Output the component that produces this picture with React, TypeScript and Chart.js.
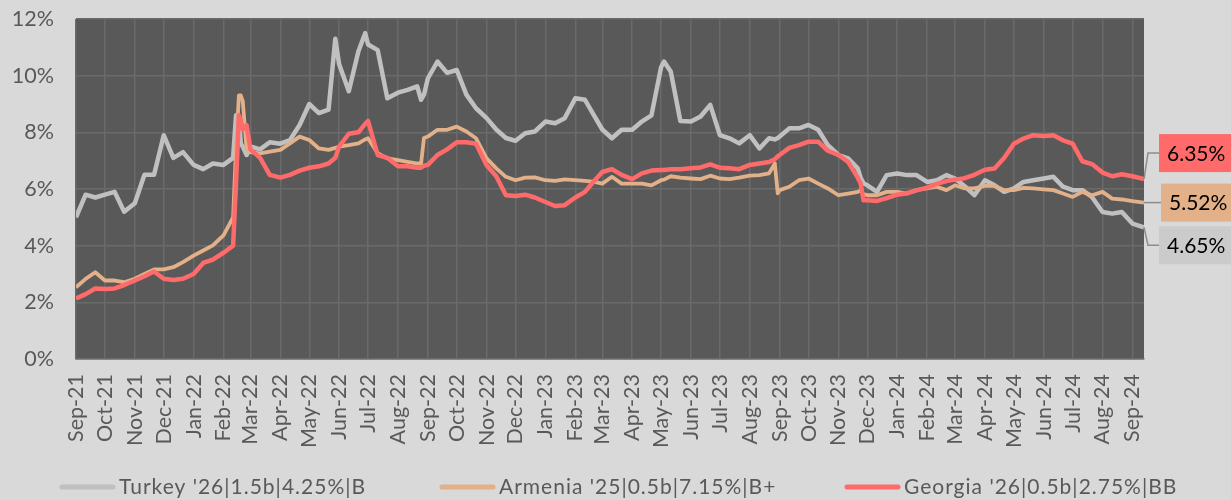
import React, { useEffect, useRef } from 'react';
import { Chart, registerables } from 'chart.js';

Chart.register(...registerables);

// ---------- DATA ----------
const dates: string[] = [
  '2021-09-01', '2021-09-11', '2021-09-21',
  '2021-10-01', '2021-10-11', '2021-10-21',
  '2021-11-01', '2021-11-11', '2021-11-21',
  '2021-12-01', '2021-12-11', '2021-12-21',
  '2022-01-01', '2022-01-11', '2022-01-21',
  '2022-02-01', '2022-02-11', '2022-02-14', '2022-02-17', '2022-02-19', '2022-02-21', '2022-02-25',
  '2022-03-01', '2022-03-11', '2022-03-21',
  '2022-04-01', '2022-04-11', '2022-04-21',
  '2022-05-01', '2022-05-11', '2022-05-21', '2022-05-28',
  '2022-06-01', '2022-06-11', '2022-06-21', '2022-06-28',
  '2022-07-01', '2022-07-11', '2022-07-21',
  '2022-08-01', '2022-08-11', '2022-08-21', '2022-08-25', '2022-08-28',
  '2022-09-01', '2022-09-11', '2022-09-21',
  '2022-10-01', '2022-10-11', '2022-10-21',
  '2022-11-01', '2022-11-11', '2022-11-21',
  '2022-12-01', '2022-12-11', '2022-12-21',
  '2023-01-01', '2023-01-11', '2023-01-21',
  '2023-02-01', '2023-02-11', '2023-02-21',
  '2023-03-01', '2023-03-11', '2023-03-21',
  '2023-04-01', '2023-04-11', '2023-04-21',
  '2023-05-01', '2023-05-04', '2023-05-11', '2023-05-21',
  '2023-06-01', '2023-06-11', '2023-06-21',
  '2023-07-01', '2023-07-11', '2023-07-21',
  '2023-08-01', '2023-08-11', '2023-08-21', '2023-08-27', '2023-08-30',
  '2023-09-01', '2023-09-11', '2023-09-21',
  '2023-10-01', '2023-10-11', '2023-10-21',
  '2023-11-01', '2023-11-11', '2023-11-21', '2023-11-24', '2023-11-27',
  '2023-12-01', '2023-12-11', '2023-12-21',
  '2024-01-01', '2024-01-11', '2024-01-21',
  '2024-02-01', '2024-02-11', '2024-02-21',
  '2024-03-01', '2024-03-11', '2024-03-21',
  '2024-04-01', '2024-04-11', '2024-04-21',
  '2024-05-01', '2024-05-11', '2024-05-21',
  '2024-06-01', '2024-06-11', '2024-06-21',
  '2024-07-01', '2024-07-11', '2024-07-21',
  '2024-08-01', '2024-08-11', '2024-08-21',
  '2024-09-01', '2024-09-13',
];

const turkey: number[] = [
  5.0, 5.8, 5.7,
  5.8, 5.9, 5.2,
  5.5, 6.5, 6.5,
  7.9, 7.1, 7.3,
  6.85, 6.7, 6.9,
  6.85, 7.1, 8.6, 8.5, 7.6, 7.5, 7.2,
  7.5, 7.4, 7.65,
  7.6, 7.73, 8.26,
  9.0, 8.68, 8.8, 11.3,
  10.4, 9.45, 10.86, 11.5,
  11.1, 10.9, 9.2,
  9.4, 9.5, 9.62, 9.15, 9.33,
  9.9, 10.5, 10.1,
  10.2, 9.33, 8.85,
  8.5, 8.1, 7.8,
  7.7, 7.97, 8.03,
  8.38, 8.32, 8.5,
  9.2, 9.15, 8.56,
  8.1, 7.79, 8.09,
  8.09, 8.38, 8.6,
  10.3, 10.5, 10.15, 8.4,
  8.38, 8.56, 8.97,
  7.9, 7.79, 7.61,
  7.9, 7.43, 7.79, 7.75, 7.8,
  7.85, 8.14, 8.14,
  8.26, 8.09, 7.55,
  7.2, 7.08, 6.73, 6.4, 6.2,
  6.13, 5.9, 6.49,
  6.55, 6.49, 6.49,
  6.25, 6.31, 6.49,
  6.37, 6.1, 5.78,
  6.31, 6.13, 5.9,
  6.02, 6.25, 6.31,
  6.37, 6.43, 6.08,
  5.96, 5.96, 5.72,
  5.19, 5.13, 5.19,
  4.78, 4.65,
];

const armenia: number[] = [
  2.53, 2.83, 3.06,
  2.77, 2.77, 2.71,
  2.83, 3.0, 3.16,
  3.16, 3.24, 3.42,
  3.65, 3.83, 4.01,
  4.36, 5.0, 7.4, 9.3, 9.3, 9.1, 7.4,
  7.3, 7.26, 7.32,
  7.38, 7.61, 7.85,
  7.73, 7.43, 7.38, 7.45,
  7.5, 7.55, 7.61, 7.75,
  7.79, 7.26, 7.08,
  7.02, 6.96, 6.9, 6.9, 7.8,
  7.85, 8.09, 8.09,
  8.2, 8.03, 7.79,
  7.08, 6.73, 6.43,
  6.31, 6.4, 6.41,
  6.31, 6.29, 6.34,
  6.31, 6.29, 6.25,
  6.19, 6.43, 6.19,
  6.19, 6.19, 6.13,
  6.31, 6.33, 6.45, 6.4,
  6.37, 6.35, 6.47,
  6.37, 6.35, 6.4,
  6.47, 6.49, 6.55, 6.9, 5.85,
  5.96, 6.08, 6.31,
  6.37, 6.19, 6.02,
  5.78, 5.84, 5.9, 5.95, 5.82,
  5.78, 5.78, 5.9,
  5.9, 5.84, 5.96,
  6.02, 6.08, 5.96,
  6.13, 6.02, 6.02,
  6.11, 6.11, 5.96,
  5.96, 6.04, 6.02,
  5.99, 5.96, 5.84,
  5.72, 5.9, 5.78,
  5.9, 5.66, 5.63,
  5.57, 5.52,
];

const georgia: number[] = [
  2.14, 2.29, 2.49,
  2.47, 2.49, 2.61,
  2.77, 2.92, 3.09,
  2.83, 2.79, 2.83,
  3.0, 3.39, 3.51,
  3.75, 4.0, 6.2, 8.6, 8.4, 8.1, 8.25,
  7.4, 7.1, 6.5,
  6.4, 6.5, 6.65,
  6.75, 6.8, 6.9, 7.1,
  7.5, 7.95, 8.0, 8.3,
  8.4, 7.2, 7.1,
  6.8, 6.8, 6.75, 6.75, 6.82,
  6.85, 7.2, 7.4,
  7.65, 7.65, 7.6,
  6.84, 6.45, 5.78,
  5.75, 5.8, 5.7,
  5.54, 5.4, 5.43,
  5.7, 5.9, 6.3,
  6.6, 6.7, 6.5,
  6.35, 6.55, 6.65,
  6.67, 6.67, 6.7, 6.7,
  6.73, 6.76, 6.87,
  6.75, 6.73, 6.7,
  6.85, 6.9, 6.95, 7.05, 7.15,
  7.2, 7.45, 7.55,
  7.67, 7.67, 7.35,
  7.2, 6.96, 6.4, 6.2, 5.6,
  5.6, 5.58, 5.68,
  5.8, 5.85, 5.95,
  6.05, 6.18, 6.28,
  6.33, 6.38, 6.5,
  6.68, 6.72, 7.1,
  7.6, 7.78, 7.9,
  7.87, 7.9, 7.72,
  7.6, 6.98, 6.88,
  6.58, 6.45, 6.52,
  6.45, 6.35,
];

const tickLabels: string[] = [
  'Sep-21', 'Oct-21', 'Nov-21', 'Dec-21',
  'Jan-22', 'Feb-22', 'Mar-22', 'Apr-22', 'May-22', 'Jun-22', 'Jul-22', 'Aug-22', 'Sep-22', 'Oct-22', 'Nov-22', 'Dec-22',
  'Jan-23', 'Feb-23', 'Mar-23', 'Apr-23', 'May-23', 'Jun-23', 'Jul-23', 'Aug-23', 'Sep-23', 'Oct-23', 'Nov-23', 'Dec-23',
  'Jan-24', 'Feb-24', 'Mar-24', 'Apr-24', 'May-24', 'Jun-24', 'Jul-24', 'Aug-24', 'Sep-24',
];

const seriesNames: string[] = [
  "Turkey '26|1.5b|4.25%|B",
  "Armenia '25|0.5b|7.15%|B+",
  "Georgia '26|0.5b|2.75%|BB",
];

const yTicks: number[] = [0, 2, 4, 6, 8, 10, 12];

// ---------- STYLE ----------
const FONT = 'Lato, "Noto Sans", sans-serif';
const TEXT = '#595959';
const colors = ['#C0C0C0', '#E2B089', '#FF6B6B'];
const boxColors = ['#CBCBCB', '#E2B089', '#FF6B6B'];
const widths = [4.5, 3.8, 4.5];

const toTime = (s: string) => {
  const [y, m, d] = s.split('-').map(Number);
  return Date.UTC(y, m - 1, d);
};
const tickTimes = tickLabels.map((_, i) => Date.UTC(2021, 8 + i, 1));

const bgPlugin = {
  id: 'bg',
  beforeDraw(chart: any) {
    const { ctx, chartArea: a } = chart;
    ctx.save();
    ctx.fillStyle = '#D9D9D9';
    ctx.fillRect(0, 0, chart.width, chart.height);
    ctx.fillStyle = '#595959';
    ctx.fillRect(a.left, a.top, a.right - a.left, a.bottom - a.top);
    ctx.restore();
  },
};

const endLabelPlugin = {
  id: 'endLabels',
  afterDatasetsDraw(chart: any) {
    const { ctx, chartArea: a } = chart;
    const specs = [
      { ds: 0, dy: 18, gap: 15 },
      { ds: 1, dy: 0, gap: 17 },
      { ds: 2, dy: -26, gap: 15 },
    ];
    ctx.save();
    specs.forEach((s) => {
      const meta = chart.getDatasetMeta(s.ds);
      const pt = meta.data[meta.data.length - 1];
      const vals = chart.data.datasets[s.ds].data;
      const last = vals[vals.length - 1].y;
      const ex = a.right;
      const ey = pt.y;
      const by = ey + s.dy;
      const left = a.right + s.gap;
      ctx.strokeStyle = '#8C8C8C';
      ctx.lineWidth = 1.5;
      ctx.beginPath();
      ctx.moveTo(ex, ey);
      if (s.dy !== 0) ctx.lineTo(ex + 4, by);
      ctx.lineTo(left, by);
      ctx.stroke();
      ctx.fillStyle = boxColors[s.ds];
      ctx.fillRect(left, by - 19, chart.width - left, 38);
      ctx.fillStyle = '#000000';
      ctx.font = `21px ${FONT}`;
      ctx.textBaseline = 'middle';
      ctx.textAlign = 'left';
      ctx.fillText(last.toFixed(2) + '%', left + 8, by + 1);
    });
    ctx.restore();
  },
};

const legendPlugin = {
  id: 'customLegend',
  afterDraw(chart: any) {
    const { ctx } = chart;
    const xs = [60, 440, 845];
    const y = 487;
    ctx.save();
    ctx.font = `21px ${FONT}`;
    try { (ctx as any).letterSpacing = '1px'; } catch (e) { /* ignore */ }
    ctx.textBaseline = 'middle';
    ctx.textAlign = 'left';
    seriesNames.forEach((name, i) => {
      ctx.strokeStyle = colors[i];
      ctx.lineWidth = 5;
      ctx.lineCap = 'round';
      ctx.beginPath();
      ctx.moveTo(xs[i] + 2, y);
      ctx.lineTo(xs[i] + 53, y);
      ctx.stroke();
      ctx.fillStyle = TEXT;
      ctx.fillText(name, xs[i] + 59, y);
    });
    ctx.restore();
  },
};

export default function App() {
  const ref = useRef<HTMLCanvasElement | null>(null);

  useEffect(() => {
    if (!ref.current) return;
    const series = [turkey, armenia, georgia];
    const chart = new Chart(ref.current, {
      type: 'line',
      data: {
        datasets: series.map((vals, i) => ({
          label: seriesNames[i],
          data: vals.map((v, j) => ({ x: toTime(dates[j]), y: v })),
          borderColor: colors[i],
          backgroundColor: colors[i],
          borderWidth: widths[i],
          pointRadius: 0,
          tension: 0,
          fill: false,
          order: 3 - i,
          borderJoinStyle: 'round' as const,
        })),
      },
      options: {
        responsive: false,
        animation: false,
        devicePixelRatio: 1,
        layout: { padding: { top: 19, right: 87, left: 0, bottom: 0 } },
        plugins: {
          legend: { display: false },
          tooltip: { enabled: false },
        },
        scales: {
          x: {
            type: 'linear',
            min: toTime(dates[0]),
            max: toTime(dates[dates.length - 1]),
            afterBuildTicks: (scale: any) => {
              scale.ticks = tickTimes.map((v) => ({ value: v }));
            },
            afterFit: (scale: any) => {
              scale.height = 141;
              scale.paddingLeft = 0;
              scale.paddingRight = 0;
            },
            grid: { color: '#6A6A6A', lineWidth: 1.5, drawTicks: false },
            border: { color: '#6A6A6A', width: 1.5 },
            ticks: {
              autoSkip: false,
              minRotation: 90,
              maxRotation: 90,
              padding: 15,
              color: TEXT,
              font: { family: FONT, size: 21.5 },
              callback: (_v: any, i: number) => tickLabels[i],
            },
          },
          y: {
            min: 0,
            max: 12,
            afterBuildTicks: (scale: any) => {
              scale.ticks = yTicks.map((v) => ({ value: v }));
            },
            afterFit: (scale: any) => {
              scale.width = 76;
              scale.paddingTop = 0;
              scale.paddingBottom = 0;
            },
            grid: { color: '#6A6A6A', lineWidth: 1.5, drawTicks: false },
            border: { display: false },
            ticks: {
              padding: 22,
              color: TEXT,
              font: { family: FONT, size: 21.5 },
              callback: (v: any) => v + '%',
            },
          },
        },
      },
      plugins: [bgPlugin, endLabelPlugin, legendPlugin],
    } as any);
    return () => chart.destroy();
  }, []);

  return (
    <div style={{ position: 'fixed', left: 0, top: 0, width: 1231, height: 500, background: '#D9D9D9' }}>
      <canvas ref={ref} width={1231} height={500} style={{ display: 'block' }} />
    </div>
  );
}
